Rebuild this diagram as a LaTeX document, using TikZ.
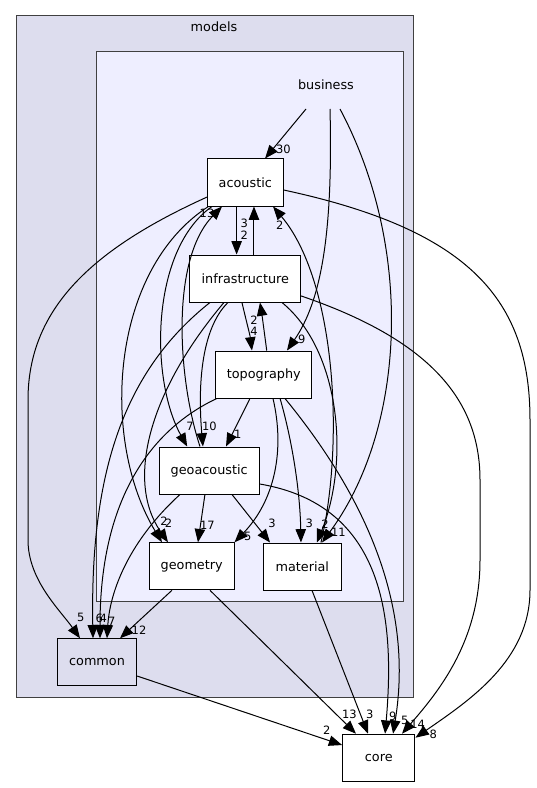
\documentclass[tikz,border=0pt]{standalone}
\usepackage{fontspec}
\setmainfont{DejaVu Sans}
\usetikzlibrary{arrows.meta}
\definecolor{modelsfill}{HTML}{DDDDEE}
\definecolor{businessfill}{HTML}{EEEEFF}
\definecolor{clusterline}{HTML}{404040}
\tikzset{
  dir box/.style={
    draw=black,
    fill=white,
    line width=0.75pt,
    minimum width={#1*0.75pt},
    minimum height={35.25pt},
    inner sep=0pt,
    font=\fontsize{9.6}{11}\selectfont,
  },
  cluster/.style={
    draw=clusterline,
    line width=0.75pt,
  },
  dep/.style={
    -{Triangle[length=10pt,width=7.8pt]},
    line width=0.75pt,
  },
  count/.style={
    inner sep=0pt,
    font=\fontsize{8.6}{9}\selectfont,
  }
}

\begin{document}
\begin{tikzpicture}[x=0.75pt, y=-0.75pt]
        \useasboundingbox (0,0) rectangle (536,788);

        % clusters
        \filldraw [cluster, fill=modelsfill] (16,16) rectangle (413,697);
        \filldraw [cluster, fill=businessfill] (96,52) rectangle (403,601);
        \node [inner sep=0pt, font=\fontsize{9.6}{11}\selectfont] (models) at (214,27) {models};

        % directories
        \node [dir box=70, draw=none, fill=none] (business) at (326,85) {business};
        \node [dir box=75.4] (acoustic) at (245.3,182.5) {acoustic};
        \node [dir box=110.7] (infrastructure) at (245.3,278.5) {infrastructure};
        \node [dir box=95.7] (topography) at (263.8,374.5) {topography};
        \node [dir box=99.7] (geoacoustic) at (209.2,470.5) {geoacoustic};
        \node [dir box=84.7] (geometry) at (191.7,566.3) {geometry};
        \node [dir box=78] (material) at (302.3,566.5) {material};
        \node [dir box=79.4, fill=modelsfill] (common) at (97,662.3) {common};
        \node [dir box=72.3] (core) at (378.8,757.7) {core};

        % dependencies
        \draw [dep] ([xshift=-15pt]business.south) -- ([xshift=14.8pt]acoustic.north);
        \draw [dep] ([xshift=3pt]business.south) .. controls (333,230) and (322,300) .. ([xshift=17.4pt]topography.north);
        \draw [dep] ([xshift=10.5pt]business.south) .. controls (415,250) and (405,430) .. ([xshift=14.8pt]material.north);

        \draw [dep] ([xshift=-6.5pt]acoustic.south) -- ([xshift=-6.5pt]infrastructure.north);
        \draw [dep] ([xshift=6.5pt]infrastructure.north) -- ([xshift=6.5pt]acoustic.south);
        \draw [dep] ([yshift=-10.9pt]acoustic.west) .. controls (90,250) and (28,310) .. (28,400)
                -- (28,540) .. controls (28,580) and (60,610) .. ([xshift=-12.75pt]common.north);
        \draw [dep] ([yshift=-5.6pt]acoustic.east) .. controls (470,230) and (530,300) .. (530,420)
                -- (530,590) .. controls (530,660) and (470,700) .. ([yshift=-3pt]core.north east);
        \draw [dep] ([xshift=-25pt]acoustic.south) .. controls (150,250) and (150,380) .. ([xshift=-16.5pt]geoacoustic.north);
        \draw [dep] ([xshift=1pt]acoustic.south west) .. controls (110,270) and (100,440) .. ([xshift=-22.3pt]geometry.north);

        \draw [dep] ([xshift=-6.9pt]geoacoustic.north) .. controls (178,380) and (170,260) .. ([xshift=-17.5pt]acoustic.south);
        \draw [dep] ([xshift=14pt]material.north) .. controls (345,440) and (335,280) .. ([xshift=20.8pt]acoustic.south);

        \draw [dep] ([xshift=-13pt]infrastructure.south) .. controls (200,330) and (198,390) .. ([xshift=-4.7pt]geoacoustic.north);
        \draw [dep] ([xshift=-26.5pt]infrastructure.south) .. controls (125,370) and (90,470) .. ([xshift=-3pt]common.north);
        \draw [dep] ([xshift=-16pt]infrastructure.south) .. controls (150,390) and (125,480) .. ([xshift=-17.8pt]geometry.north);
        \draw [dep] ([xshift=-2.5pt]infrastructure.south) .. controls (246,320) and (250,335) .. ([xshift=-8.9pt]topography.north);
        \draw [dep] ([xshift=27.5pt]infrastructure.south) .. controls (340,350) and (350,460) .. ([xshift=11pt]material.north);
        \draw [dep] ([yshift=-13.1pt]infrastructure.east) .. controls (430,340) and (480,400) .. (480,480)
                -- (480,560) .. controls (480,640) and (440,690) .. ([xshift=17.4pt]core.north);

        \draw [dep] ([xshift=2.2pt]topography.north) .. controls (264,330) and (262,315) .. ([xshift=11pt]infrastructure.south);
        \draw [dep] ([xshift=-10.4pt]topography.south) -- ([xshift=12.6pt]geoacoustic.north);
        \draw [dep] ([xshift=1pt]topography.south west) .. controls (150,430) and (100,500) .. ([xshift=2.25pt]common.north);
        \draw [dep] ([xshift=6.9pt]topography.south) .. controls (285,450) and (275,500) .. (geometry.north east);
        \draw [dep] ([xshift=12.2pt]topography.south) .. controls (292,440) and (300,490) .. ([xshift=-1pt]material.north);
        \draw [dep] ([xshift=15.9pt]topography.south) .. controls (360,490) and (415,600) .. ([xshift=10.7pt]core.north);

        \draw [dep] ([xshift=-3.2pt]geoacoustic.south) -- ([xshift=4.7pt]geometry.north);
        \draw [dep] ([xshift=17.1pt]geoacoustic.south) -- ([xshift=-24.2pt]material.north);
        \draw [dep] ([xshift=-21.9pt]geoacoustic.south) .. controls (130,540) and (110,590) .. ([xshift=7.5pt]common.north);
        \draw [dep] ([yshift=-10.1pt]geoacoustic.east) .. controls (385,505) and (395,620) .. ([xshift=4.7pt]core.north);

        \draw [dep] ([xshift=-14.8pt]geometry.south) -- ([xshift=17.25pt]common.north);
        \draw [dep] ([xshift=13.7pt]geometry.south) -- ([xshift=-17.1pt]core.north);
        \draw [dep] ([xshift=7.3pt]material.south) -- ([xshift=-8.1pt]core.north);
        \draw [dep] ([yshift=-10.3pt]common.east) -- ([yshift=9.5pt]core.west);

        % counts
        \node [count] (n-bu-ac) at (283.3,149.3) {30};
        \node [count] (n-ge-ac) at (207,213.3) {13};
        \node [count] (n-ac-in) at (244.3,223.5) {3};
        \node [count] (n-in-ac) at (244.3,234.8) {2};
        \node [count] (n-ma-ac) at (279.7,225) {2};
        \node [count] (n-to-in) at (254,320) {2};
        \node [count] (n-in-to) at (254,331.3) {4};
        \node [count] (n-bu-to) at (301.7,339.3) {9};
        \node [count] (n-ac-ge) at (190,426) {7};
        \node [count] (n-in-ge) at (209.3,426.7) {10};
        \node [count] (n-to-ge) at (237.7,434) {1};
        \node [count] (n-ac-gm) at (164,521) {2};
        \node [count] (n-in-gm) at (168.5,523) {2};
        \node [count] (n-ge-gm) at (207.3,525.7) {17};
        \node [count] (n-to-gm) at (247.7,536.7) {5};
        \node [count] (n-ge-ma) at (272,523.3) {3};
        \node [count] (n-to-ma) at (309.3,523.3) {3};
        \node [count] (n-in-ma) at (325,524) {2};
        \node [count] (n-bu-ma) at (338.3,532.3) {11};
        \node [count] (n-ac-co) at (80.7,617.3) {5};
        \node [count] (n-in-co) at (99.3,618.3) {6};
        \node [count] (n-to-co) at (103.3,618.3) {4};
        \node [count] (n-ge-co) at (111.7,621.7) {7};
        \node [count] (n-gm-co) at (139,630) {12};
        \node [count] (n-co-cr) at (326.7,730.7) {2};
        \node [count] (n-gm-cr) at (349.3,714.3) {13};
        \node [count] (n-ma-cr) at (369.7,714) {3};
        \node [count] (n-ge-cr) at (392.7,716) {9};
        \node [count] (n-to-cr) at (404.7,720.7) {5};
        \node [count] (n-in-cr) at (417.7,724) {14};
        \node [count] (n-ac-cr) at (433.3,734.3) {8};
      \end{tikzpicture}
\end{document}
